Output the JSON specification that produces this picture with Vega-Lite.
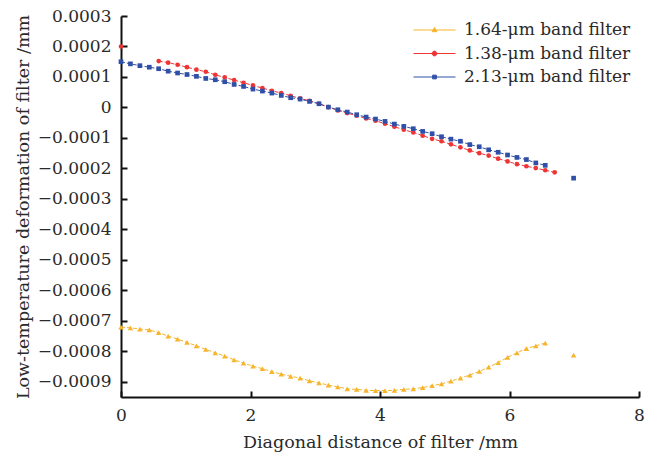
{
  "$schema": "https://vega.github.io/schema/vega-lite/v6.json",
  "width": 518,
  "height": 381,
  "autosize": "none",
  "padding": {"left": 121, "top": 16, "right": 18, "bottom": 61},
  "background": "white",
  "config": {
    "view": {"stroke": null},
    "font": "DejaVu Serif",
    "axis": {
      "labelFont": "DejaVu Serif", "labelFontSize": 17, "labelColor": "#2a2a2a", "labelFlush": false,
      "titleFont": "DejaVu Serif", "titleFontSize": 17.5, "titleColor": "#2a2a2a", "titleFontWeight": "normal",
      "domainColor": "#111", "domainWidth": 2, "tickColor": "#111", "tickWidth": 2, "tickSize": -6,
      "grid": false
    },
    "legend": {"labelFont": "DejaVu Serif", "labelFontSize": 17, "labelColor": "#2a2a2a", "labelLimit": 400}
  },
  "data": {
    "values": [
      {"s": "1.64-μm band filter", "p": "m", "x": 0, "y": -0.000721},
      {"s": "1.64-μm band filter", "p": "m", "x": 0.146, "y": -0.000723},
      {"s": "1.64-μm band filter", "p": "m", "x": 0.291, "y": -0.000727},
      {"s": "1.64-μm band filter", "p": "m", "x": 0.437, "y": -0.00073},
      {"s": "1.64-μm band filter", "p": "m", "x": 0.582, "y": -0.000739},
      {"s": "1.64-μm band filter", "p": "m", "x": 0.728, "y": -0.00075},
      {"s": "1.64-μm band filter", "p": "m", "x": 0.874, "y": -0.00076},
      {"s": "1.64-μm band filter", "p": "m", "x": 1.019, "y": -0.000771},
      {"s": "1.64-μm band filter", "p": "m", "x": 1.165, "y": -0.000782},
      {"s": "1.64-μm band filter", "p": "m", "x": 1.31, "y": -0.000794},
      {"s": "1.64-μm band filter", "p": "m", "x": 1.456, "y": -0.000805},
      {"s": "1.64-μm band filter", "p": "m", "x": 1.602, "y": -0.000816},
      {"s": "1.64-μm band filter", "p": "m", "x": 1.747, "y": -0.000828},
      {"s": "1.64-μm band filter", "p": "m", "x": 1.893, "y": -0.000839},
      {"s": "1.64-μm band filter", "p": "m", "x": 2.038, "y": -0.000849},
      {"s": "1.64-μm band filter", "p": "m", "x": 2.184, "y": -0.000857},
      {"s": "1.64-μm band filter", "p": "m", "x": 2.33, "y": -0.000867},
      {"s": "1.64-μm band filter", "p": "m", "x": 2.475, "y": -0.000875},
      {"s": "1.64-μm band filter", "p": "m", "x": 2.621, "y": -0.000882},
      {"s": "1.64-μm band filter", "p": "m", "x": 2.766, "y": -0.000888},
      {"s": "1.64-μm band filter", "p": "m", "x": 2.912, "y": -0.000897},
      {"s": "1.64-μm band filter", "p": "m", "x": 3.058, "y": -0.000904},
      {"s": "1.64-μm band filter", "p": "m", "x": 3.203, "y": -0.000911},
      {"s": "1.64-μm band filter", "p": "m", "x": 3.349, "y": -0.000917},
      {"s": "1.64-μm band filter", "p": "m", "x": 3.494, "y": -0.000923},
      {"s": "1.64-μm band filter", "p": "m", "x": 3.64, "y": -0.000925},
      {"s": "1.64-μm band filter", "p": "m", "x": 3.786, "y": -0.000928},
      {"s": "1.64-μm band filter", "p": "m", "x": 3.931, "y": -0.000929},
      {"s": "1.64-μm band filter", "p": "m", "x": 4.077, "y": -0.000929},
      {"s": "1.64-μm band filter", "p": "m", "x": 4.222, "y": -0.000928},
      {"s": "1.64-μm band filter", "p": "m", "x": 4.368, "y": -0.000925},
      {"s": "1.64-μm band filter", "p": "m", "x": 4.514, "y": -0.000923},
      {"s": "1.64-μm band filter", "p": "m", "x": 4.659, "y": -0.000919},
      {"s": "1.64-μm band filter", "p": "m", "x": 4.805, "y": -0.000913},
      {"s": "1.64-μm band filter", "p": "m", "x": 4.95, "y": -0.000907},
      {"s": "1.64-μm band filter", "p": "m", "x": 5.096, "y": -0.000898},
      {"s": "1.64-μm band filter", "p": "m", "x": 5.242, "y": -0.000888},
      {"s": "1.64-μm band filter", "p": "m", "x": 5.387, "y": -0.000878},
      {"s": "1.64-μm band filter", "p": "m", "x": 5.533, "y": -0.000866},
      {"s": "1.64-μm band filter", "p": "m", "x": 5.678, "y": -0.000852},
      {"s": "1.64-μm band filter", "p": "m", "x": 5.824, "y": -0.000837},
      {"s": "1.64-μm band filter", "p": "m", "x": 5.97, "y": -0.00082},
      {"s": "1.64-μm band filter", "p": "m", "x": 6.115, "y": -0.000805},
      {"s": "1.64-μm band filter", "p": "m", "x": 6.261, "y": -0.000791},
      {"s": "1.64-μm band filter", "p": "m", "x": 6.406, "y": -0.000782},
      {"s": "1.64-μm band filter", "p": "m", "x": 6.552, "y": -0.000773},
      {"s": "1.64-μm band filter", "p": "e", "x": 6.99, "y": -0.000813},
      {"s": "1.38-μm band filter", "p": "e", "x": 0, "y": 0.0002},
      {"s": "1.38-μm band filter", "p": "m", "x": 0.582, "y": 0.000152},
      {"s": "1.38-μm band filter", "p": "m", "x": 0.728, "y": 0.000147},
      {"s": "1.38-μm band filter", "p": "m", "x": 0.874, "y": 0.00014},
      {"s": "1.38-μm band filter", "p": "m", "x": 1.019, "y": 0.000132},
      {"s": "1.38-μm band filter", "p": "m", "x": 1.165, "y": 0.000124},
      {"s": "1.38-μm band filter", "p": "m", "x": 1.31, "y": 0.000117},
      {"s": "1.38-μm band filter", "p": "m", "x": 1.456, "y": 0.000107},
      {"s": "1.38-μm band filter", "p": "m", "x": 1.602, "y": 0.0000985},
      {"s": "1.38-μm band filter", "p": "m", "x": 1.747, "y": 0.0000897},
      {"s": "1.38-μm band filter", "p": "m", "x": 1.893, "y": 0.000081},
      {"s": "1.38-μm band filter", "p": "m", "x": 2.038, "y": 0.0000722},
      {"s": "1.38-μm band filter", "p": "m", "x": 2.184, "y": 0.0000635},
      {"s": "1.38-μm band filter", "p": "m", "x": 2.33, "y": 0.0000548},
      {"s": "1.38-μm band filter", "p": "m", "x": 2.475, "y": 0.0000471},
      {"s": "1.38-μm band filter", "p": "m", "x": 2.621, "y": 0.0000384},
      {"s": "1.38-μm band filter", "p": "m", "x": 2.766, "y": 0.0000296},
      {"s": "1.38-μm band filter", "p": "m", "x": 2.912, "y": 0.000022},
      {"s": "1.38-μm band filter", "p": "m", "x": 3.058, "y": 0.0000121},
      {"s": "1.38-μm band filter", "p": "m", "x": 3.203, "y": 0.0000011},
      {"s": "1.38-μm band filter", "p": "m", "x": 3.349, "y": -0.0000097},
      {"s": "1.38-μm band filter", "p": "m", "x": 3.494, "y": -0.0000185},
      {"s": "1.38-μm band filter", "p": "m", "x": 3.64, "y": -0.0000272},
      {"s": "1.38-μm band filter", "p": "m", "x": 3.786, "y": -0.000036},
      {"s": "1.38-μm band filter", "p": "m", "x": 3.931, "y": -0.0000436},
      {"s": "1.38-μm band filter", "p": "m", "x": 4.077, "y": -0.0000534},
      {"s": "1.38-μm band filter", "p": "m", "x": 4.222, "y": -0.0000633},
      {"s": "1.38-μm band filter", "p": "m", "x": 4.368, "y": -0.0000731},
      {"s": "1.38-μm band filter", "p": "m", "x": 4.514, "y": -0.0000819},
      {"s": "1.38-μm band filter", "p": "m", "x": 4.659, "y": -0.0000928},
      {"s": "1.38-μm band filter", "p": "m", "x": 4.805, "y": -0.000103},
      {"s": "1.38-μm band filter", "p": "m", "x": 4.95, "y": -0.000111},
      {"s": "1.38-μm band filter", "p": "m", "x": 5.096, "y": -0.000121},
      {"s": "1.38-μm band filter", "p": "m", "x": 5.242, "y": -0.000131},
      {"s": "1.38-μm band filter", "p": "m", "x": 5.387, "y": -0.000141},
      {"s": "1.38-μm band filter", "p": "m", "x": 5.533, "y": -0.00015},
      {"s": "1.38-μm band filter", "p": "m", "x": 5.678, "y": -0.000158},
      {"s": "1.38-μm band filter", "p": "m", "x": 5.824, "y": -0.000168},
      {"s": "1.38-μm band filter", "p": "m", "x": 5.97, "y": -0.000177},
      {"s": "1.38-μm band filter", "p": "m", "x": 6.115, "y": -0.000186},
      {"s": "1.38-μm band filter", "p": "m", "x": 6.261, "y": -0.000193},
      {"s": "1.38-μm band filter", "p": "m", "x": 6.406, "y": -0.000199},
      {"s": "1.38-μm band filter", "p": "m", "x": 6.552, "y": -0.000206},
      {"s": "1.38-μm band filter", "p": "m", "x": 6.698, "y": -0.000213},
      {"s": "2.13-μm band filter", "p": "m", "x": 0, "y": 0.00015},
      {"s": "2.13-μm band filter", "p": "m", "x": 0.146, "y": 0.000143},
      {"s": "2.13-μm band filter", "p": "m", "x": 0.291, "y": 0.000137},
      {"s": "2.13-μm band filter", "p": "m", "x": 0.437, "y": 0.000132},
      {"s": "2.13-μm band filter", "p": "m", "x": 0.582, "y": 0.000127},
      {"s": "2.13-μm band filter", "p": "m", "x": 0.728, "y": 0.000119},
      {"s": "2.13-μm band filter", "p": "m", "x": 0.874, "y": 0.000113},
      {"s": "2.13-μm band filter", "p": "m", "x": 1.019, "y": 0.000108},
      {"s": "2.13-μm band filter", "p": "m", "x": 1.165, "y": 0.000102},
      {"s": "2.13-μm band filter", "p": "m", "x": 1.31, "y": 0.0000951},
      {"s": "2.13-μm band filter", "p": "m", "x": 1.456, "y": 0.0000908},
      {"s": "2.13-μm band filter", "p": "m", "x": 1.602, "y": 0.0000843},
      {"s": "2.13-μm band filter", "p": "m", "x": 1.747, "y": 0.0000755},
      {"s": "2.13-μm band filter", "p": "m", "x": 1.893, "y": 0.0000689},
      {"s": "2.13-μm band filter", "p": "m", "x": 2.038, "y": 0.0000602},
      {"s": "2.13-μm band filter", "p": "m", "x": 2.184, "y": 0.0000537},
      {"s": "2.13-μm band filter", "p": "m", "x": 2.33, "y": 0.0000471},
      {"s": "2.13-μm band filter", "p": "m", "x": 2.475, "y": 0.0000394},
      {"s": "2.13-μm band filter", "p": "m", "x": 2.621, "y": 0.0000318},
      {"s": "2.13-μm band filter", "p": "m", "x": 2.766, "y": 0.0000274},
      {"s": "2.13-μm band filter", "p": "m", "x": 2.912, "y": 0.0000198},
      {"s": "2.13-μm band filter", "p": "m", "x": 3.058, "y": 0.0000121},
      {"s": "2.13-μm band filter", "p": "m", "x": 3.203, "y": 0.0000011},
      {"s": "2.13-μm band filter", "p": "m", "x": 3.349, "y": -0.0000075},
      {"s": "2.13-μm band filter", "p": "m", "x": 3.494, "y": -0.0000152},
      {"s": "2.13-μm band filter", "p": "m", "x": 3.64, "y": -0.0000239},
      {"s": "2.13-μm band filter", "p": "m", "x": 3.786, "y": -0.0000316},
      {"s": "2.13-μm band filter", "p": "m", "x": 3.931, "y": -0.0000381},
      {"s": "2.13-μm band filter", "p": "m", "x": 4.077, "y": -0.0000458},
      {"s": "2.13-μm band filter", "p": "m", "x": 4.222, "y": -0.0000546},
      {"s": "2.13-μm band filter", "p": "m", "x": 4.368, "y": -0.0000622},
      {"s": "2.13-μm band filter", "p": "m", "x": 4.514, "y": -0.0000698},
      {"s": "2.13-μm band filter", "p": "m", "x": 4.659, "y": -0.0000786},
      {"s": "2.13-μm band filter", "p": "m", "x": 4.805, "y": -0.0000862},
      {"s": "2.13-μm band filter", "p": "m", "x": 4.95, "y": -0.0000961},
      {"s": "2.13-μm band filter", "p": "m", "x": 5.096, "y": -0.000104},
      {"s": "2.13-μm band filter", "p": "m", "x": 5.242, "y": -0.000111},
      {"s": "2.13-μm band filter", "p": "m", "x": 5.387, "y": -0.000122},
      {"s": "2.13-μm band filter", "p": "m", "x": 5.533, "y": -0.000129},
      {"s": "2.13-μm band filter", "p": "m", "x": 5.678, "y": -0.000139},
      {"s": "2.13-μm band filter", "p": "m", "x": 5.824, "y": -0.000147},
      {"s": "2.13-μm band filter", "p": "m", "x": 5.97, "y": -0.000156},
      {"s": "2.13-μm band filter", "p": "m", "x": 6.115, "y": -0.000164},
      {"s": "2.13-μm band filter", "p": "m", "x": 6.261, "y": -0.000171},
      {"s": "2.13-μm band filter", "p": "m", "x": 6.406, "y": -0.000182},
      {"s": "2.13-μm band filter", "p": "m", "x": 6.552, "y": -0.00019},
      {"s": "2.13-μm band filter", "p": "e", "x": 6.99, "y": -0.000232}
    ]
  },
  "encoding": {
    "x": {
      "field": "x", "type": "quantitative",
      "scale": {"domain": [0, 8], "nice": false, "zero": false},
      "axis": {"values": [0, 2, 4, 6, 8], "title": "Diagonal distance of filter /mm", "labelPadding": 16, "titlePadding": 10}
    },
    "y": {
      "field": "y", "type": "quantitative",
      "scale": {"domain": [-0.00095, 0.0003], "nice": false, "zero": false},
      "axis": {
        "values": [-0.0009, -0.0008, -0.0007, -0.0006, -0.0005, -0.0004, -0.0003, -0.0002, -0.0001, 0, 0.0001, 0.0002, 0.0003],
        "labelExpr": "datum.value == 0 ? '0' : format(datum.value, '.4f')",
        "title": "Low-temperature deformation of filter /mm",
        "labelPadding": 16, "titlePadding": 5
      }
    },
    "color": {
      "field": "s", "type": "nominal",
      "scale": {
        "domain": ["1.64-μm band filter", "1.38-μm band filter", "2.13-μm band filter"],
        "range": ["#F7B52C", "#EE3535", "#3050A8"]
      },
      "legend": {
        "title": null, "orient": "none", "legendX": 317, "legendY": 5, "padding": 0,
        "rowPadding": 6.5, "labelOffset": 8, "symbolSize": 289, "labelLimit": 400,
        "encode": {
          "symbols": {
            "update": {
              "shape": {"signal": "datum.value == '1.64-μm band filter' ? 'M-3.94,0L1,0M-1.47,-0.3L-1.19,0.2L-1.75,0.2Z' : datum.value == '1.38-μm band filter' ? 'M-3.94,0L1,0M-1.75,0A0.28,0.28,0,1,0,-1.19,0A0.28,0.28,0,1,0,-1.75,0Z' : 'M-3.94,0L1,0M-1.69,-0.22H-1.25V0.22H-1.69Z'"},
              "size": {"value": 289},
              "fill": {"signal": "datum.value == '1.64-μm band filter' ? '#F7B52C' : datum.value == '1.38-μm band filter' ? '#EE3535' : '#3050A8'"},
              "stroke": {"signal": "datum.value == '1.64-μm band filter' ? '#F7B52C' : datum.value == '1.38-μm band filter' ? '#EE3535' : '#3050A8'"},
              "strokeWidth": {"value": 1},
              "strokeDash": {"value": []},
              "opacity": {"value": 1},
              "fillOpacity": {"value": 1}
            }
          }
        }
      }
    }
  },
  "layer": [
    {
      "mark": {"type": "line", "strokeWidth": 1, "strokeDash": [4, 2]},
      "encoding": {"detail": {"field": "p", "type": "nominal"}}
    },
    {
      "transform": [{"filter": "datum.s == '1.64-μm band filter'"}],
      "mark": {"type": "point", "filled": true, "opacity": 1, "shape": "triangle-up", "size": 30}
    },
    {
      "transform": [{"filter": "datum.s == '1.38-μm band filter'"}],
      "mark": {"type": "point", "filled": true, "opacity": 1, "shape": "circle", "size": 22}
    },
    {
      "transform": [{"filter": "datum.s == '2.13-μm band filter'"}],
      "mark": {"type": "point", "filled": true, "opacity": 1, "shape": "square", "size": 22}
    }
  ]
}
